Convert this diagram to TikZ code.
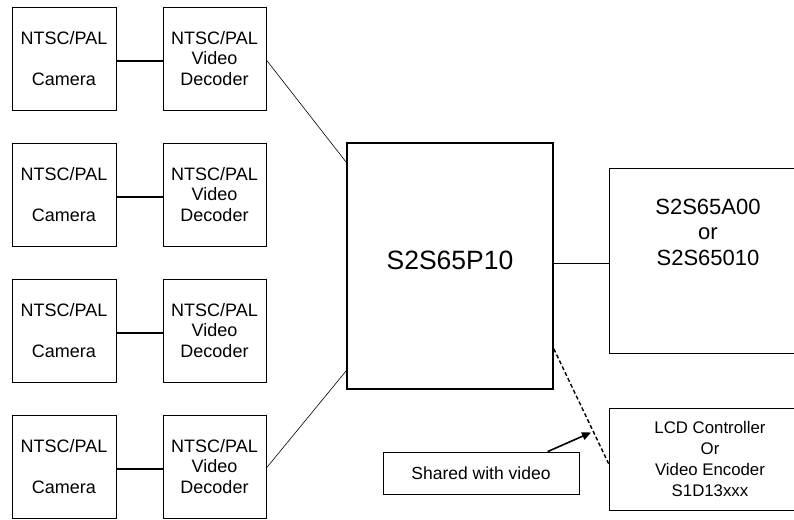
\documentclass[tikz,border=0pt]{standalone}
\usepackage{fontspec}
\setmainfont{Liberation Sans}
\usetikzlibrary{calc,arrows.meta}
\begin{document}
\begin{tikzpicture}[x=1pt,y=-1pt,
  box/.style={draw,line width=0.8pt,inner sep=0pt,align=center,font=\fontsize{18}{20.5}\selectfont},
  cambox/.style={box,minimum width=104pt,minimum height=103pt},
  decbox/.style={box,minimum width=103pt,minimum height=103pt},
  thin link/.style={line width=0.6pt},
  thick link/.style={line width=1.6pt}]
\useasboundingbox (0,0) rectangle (794,519);
\foreach \i/\yy in {1/58.5,2/194.5,3/330.5,4/466.5}{
  \node[cambox] (cam\i) at (64,\yy) {NTSC/PAL\\[20.5pt]Camera};
  \node[decbox] (dec\i) at (214.5,\yy) {NTSC/PAL\\Video\\Decoder};
  \draw[thick link] ($(cam\i.east)+(0,2.5)$) -- ($(dec\i.west)+(0,2.5)$);
}
\node[draw,line width=1.6pt,minimum width=206pt,minimum height=246pt,inner sep=0pt] (main) at (450,266) {};
\node[font=\fontsize{26.5}{30}\selectfont] (maintext) at (450,260) {S2S65P10};
\node[draw,line width=0.8pt,minimum width=202pt,minimum height=185pt,inner sep=0pt] (rbox) at (710,260.5) {};
\node[align=center,font=\fontsize{22}{25.5}\selectfont] (rtext) at (708,232) {S2S65A00\\or\\S2S65010};
\node[box,minimum width=202pt,minimum height=102pt,font=\fontsize{16.8}{21}\selectfont] (lcd) at (710,459) {LCD Controller\\Or\\Video Encoder\\S1D13xxx};
\node[box,minimum width=196pt,minimum height=42pt,font=\fontsize{17.5}{20}\selectfont] (shared) at (481,473) {Shared with video};
\draw[thin link] ($(dec1.east)+(0,1.5)$) -- ($(main.north west)+(0,20)$);
\draw[thin link] ($(dec2.east)+(0,1.5)$) -- ($(dec2.east)+(0,1.5)$ -| main.west);
\draw[thin link] ($(dec3.east)+(0,1.5)$) -- ($(dec3.east)+(0,1.5)$ -| main.west);
\draw[thin link] ($(dec4.east)+(0,1.5)$) -- ($(main.south west)+(0,-19)$);
\coordinate (rin) at ($(rbox.west)+(0,2.5)$);
\draw[thin link] (rin) -- (rin -| main.east);
\draw[line width=1.4pt,dash pattern=on 4pt off 2.5pt] ($(main.south east)+(0,-41)$) -- ($(lcd.north west)+(0,56)$);
\coordinate (tip) at (591,432.5);
\draw[line width=1.6pt,-{Triangle[length=9pt,width=8pt]}] ($(shared.north west)+(165,0)$) -- (tip);
\end{tikzpicture}
\end{document}
